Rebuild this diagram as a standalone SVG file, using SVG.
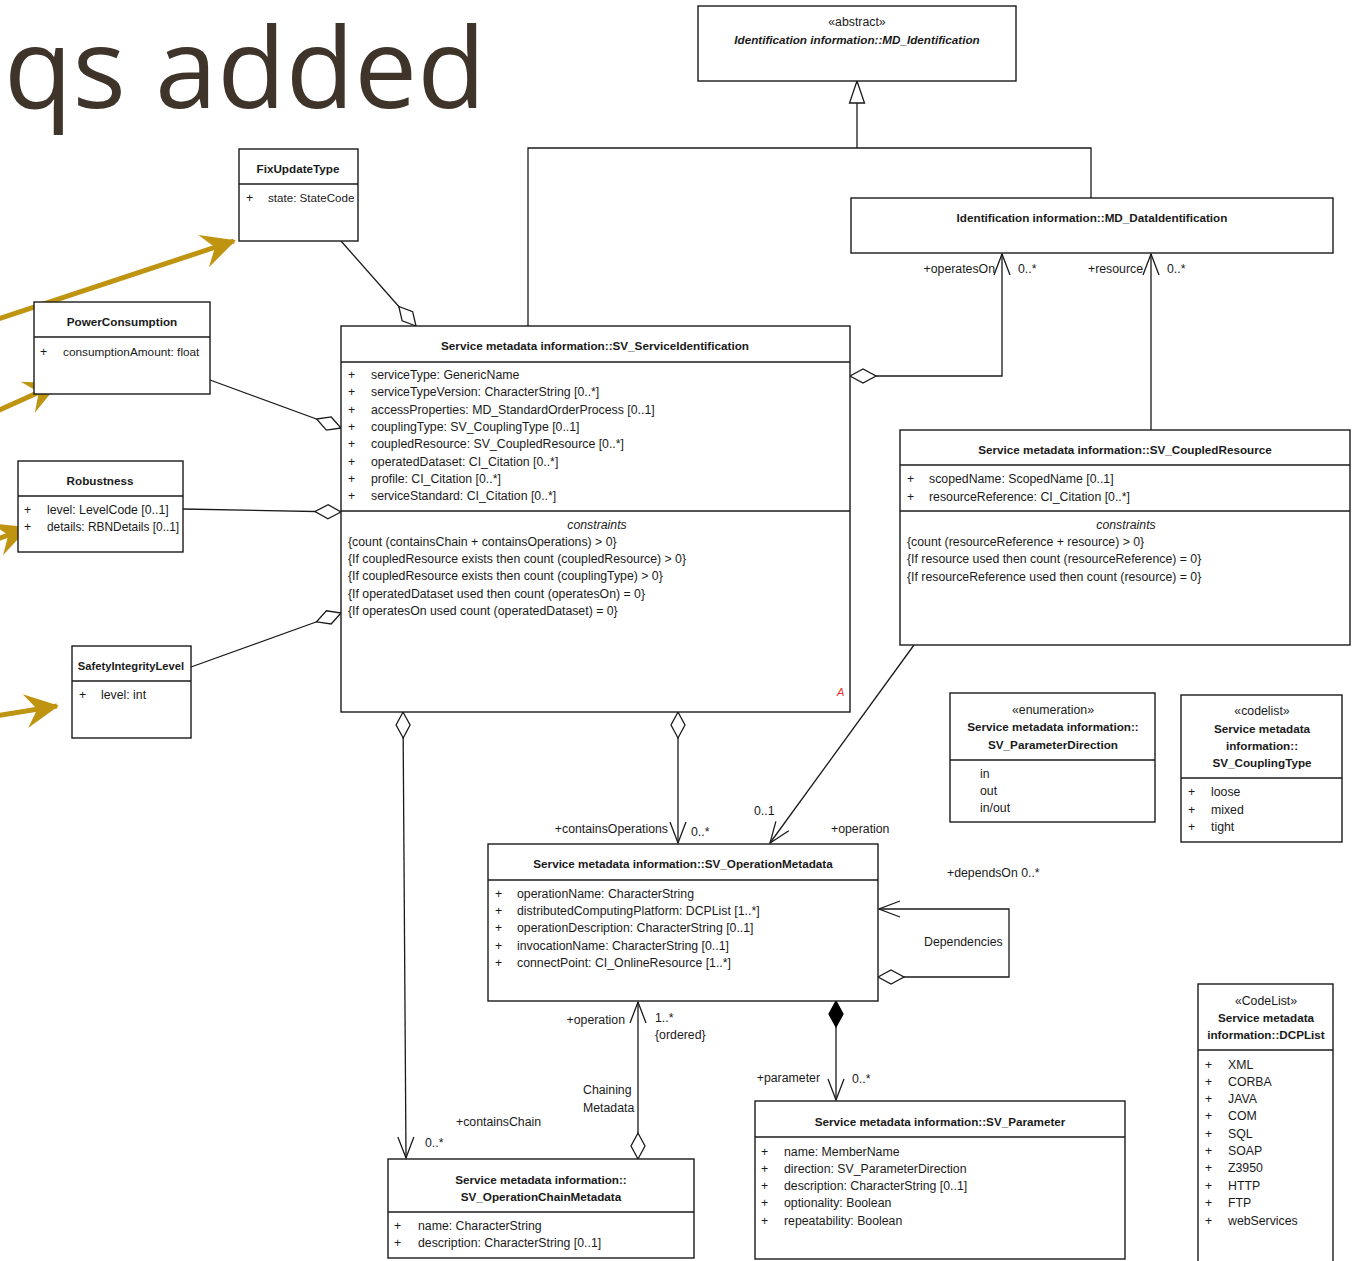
<svg xmlns="http://www.w3.org/2000/svg" width="1363" height="1261" viewBox="0 0 1363 1261">
  <style>
    text { font-family: "Liberation Sans", Arial, sans-serif; font-size: 12.3px; fill: #1a1a1a; }
    .b { font-weight: bold; font-size: 11.7px; }
    .bi { font-weight: bold; font-style: italic; font-size: 11.7px; }
    .it { font-style: italic; }
    .c { text-anchor: middle; }
    .e { text-anchor: end; }
    .box { fill: #ffffff; stroke: #1a1a1a; stroke-width: 1.4; }
    .sep { stroke: #1a1a1a; stroke-width: 1.4; fill: none; }
    .conn { fill: none; stroke: #1a1a1a; stroke-width: 1.3; }
    .gold { fill: none; stroke: #bf9410; stroke-width: 5; }
    .title { font-family: "Open Sans", "Liberation Sans", sans-serif; font-size: 112px; fill: #3f3429; }
  </style>
  <defs>
    <marker id="open" markerUnits="userSpaceOnUse" orient="auto" refX="0" refY="0" markerWidth="40" markerHeight="40" overflow="visible">
      <path d="M-21,-8 L0,0 L-21,8" fill="none" stroke="#1a1a1a" stroke-width="1.3"/>
    </marker>
    <marker id="gen" markerUnits="userSpaceOnUse" orient="auto" refX="0" refY="0" markerWidth="40" markerHeight="40" overflow="visible">
      <path d="M0,0 L-22,-7.5 L-22,7.5 Z" fill="#ffffff" stroke="#1a1a1a" stroke-width="1.3"/>
    </marker>
    <marker id="agg" markerUnits="userSpaceOnUse" orient="auto" refX="0" refY="0" markerWidth="40" markerHeight="40" overflow="visible">
      <path d="M0,0 L13,-7 L26,0 L13,7 Z" fill="#ffffff" stroke="#1a1a1a" stroke-width="1.3"/>
    </marker>
    <marker id="comp" markerUnits="userSpaceOnUse" orient="auto" refX="0" refY="0" markerWidth="40" markerHeight="40" overflow="visible">
      <path d="M0,0 L13,-7 L26,0 L13,7 Z" fill="#000000" stroke="#000000" stroke-width="1.3"/>
    </marker>
    <marker id="goldhead" markerUnits="userSpaceOnUse" orient="auto" refX="0" refY="0" markerWidth="60" markerHeight="60" overflow="visible">
      <path d="M2,0 L-32,-17 L-20,0 L-32,17 Z" fill="#bf9410"/>
    </marker>
  </defs>

  <!-- slide title, partly off the left edge -->
  <text class="title" x="4" y="108">qs added</text>

  <!-- highlight arrows pointing at the added classes -->
  <g id="highlights">
    <path class="gold" d="M-5,320 L234,241" marker-end="url(#goldhead)"/>
    <path class="gold" d="M-5,412 L57,384" marker-end="url(#goldhead)"/>
    <path class="gold" d="M-5,540 L27,528" marker-end="url(#goldhead)"/>
    <path class="gold" d="M-5,716 L57,706" marker-end="url(#goldhead)"/>
  </g>

  <g id="connectors">
    <!-- generalization to MD_Identification -->
    <path class="conn" d="M528,326 V148 H1091 V198"/>
    <path class="conn" d="M857,148 V81" marker-end="url(#gen)"/>
    <!-- aggregations onto SV_ServiceIdentification -->
    <path class="conn" d="M416,326 L341,241" marker-start="url(#agg)"/>
    <path class="conn" d="M341,428 L210,380" marker-start="url(#agg)"/>
    <path class="conn" d="M341,512 L183,509" marker-start="url(#agg)"/>
    <path class="conn" d="M341,613 L191,667" marker-start="url(#agg)"/>
    <!-- operatesOn / resource -->
    <path class="conn" d="M850,376 H1002 V254" marker-start="url(#agg)" marker-end="url(#open)"/>
    <path class="conn" d="M1151,430 V254" marker-end="url(#open)"/>
    <!-- containsOperations / containsChain -->
    <path class="conn" d="M678,712 V843" marker-start="url(#agg)" marker-end="url(#open)"/>
    <path class="conn" d="M403,712 L406,1158" marker-start="url(#agg)" marker-end="url(#open)"/>
    <!-- coupled resource operation -->
    <path class="conn" d="M914,645 L770,843" marker-end="url(#open)"/>
    <!-- Dependencies self association -->
    <path class="conn" d="M878,977 H1009 V909 H879" marker-start="url(#agg)" marker-end="url(#open)"/>
    <!-- Chaining Metadata -->
    <path class="conn" d="M638,1159 V1002" marker-start="url(#agg)" marker-end="url(#open)"/>
    <!-- parameter composition -->
    <path class="conn" d="M836,1001 V1100" marker-start="url(#comp)" marker-end="url(#open)"/>

    <text class="e" x="995" y="273">+operatesOn</text>
    <text x="1018" y="273">0..*</text>
    <text class="e" x="1143" y="273">+resource</text>
    <text x="1167" y="273">0..*</text>
    <text class="e" x="668" y="833">+containsOperations</text>
    <text x="691" y="836">0..*</text>
    <text x="754" y="815">0..1</text>
    <text x="831" y="833">+operation</text>
    <text x="947" y="877">+dependsOn 0..*</text>
    <text x="924" y="946">Dependencies</text>
    <text class="e" x="625" y="1024">+operation</text>
    <text x="655" y="1022">1..*</text>
    <text x="655" y="1039">{ordered}</text>
    <text x="583" y="1094">Chaining</text>
    <text x="583" y="1112">Metadata</text>
    <text x="456" y="1126">+containsChain</text>
    <text x="425" y="1147">0..*</text>
    <text class="e" x="820" y="1082">+parameter</text>
    <text x="852" y="1083">0..*</text>
  </g>

  <g id="MD_Identification">
    <rect class="box" x="698" y="6" width="318" height="75"/>
    <text class="c" x="857" y="26">«abstract»</text>
    <text class="bi c" x="857" y="44">Identification information::MD_Identification</text>
  </g>

  <g id="MD_DataIdentification">
    <rect class="box" x="851" y="198" width="482" height="55"/>
    <text class="b c" x="1092" y="222">Identification information::MD_DataIdentification</text>
  </g>

  <g id="FixUpdateType">
    <rect class="box" x="239" y="149" width="119" height="92"/>
    <line class="sep" x1="239" y1="184" x2="358" y2="184"/>
    <text class="b c" x="298" y="173">FixUpdateType</text>
    <text x="246" y="202">+</text>
    <text x="268" y="202" style="font-size:11.6px">state: StateCode</text>
  </g>

  <g id="PowerConsumption">
    <rect class="box" x="34" y="302" width="176" height="92"/>
    <line class="sep" x1="34" y1="337" x2="210" y2="337"/>
    <text class="b c" x="122" y="326">PowerConsumption</text>
    <text x="40" y="356">+</text>
    <text x="63" y="356" style="font-size:11.8px">consumptionAmount: float</text>
  </g>

  <g id="Robustness">
    <rect class="box" x="18" y="461" width="165" height="91"/>
    <line class="sep" x1="18" y1="496" x2="183" y2="496"/>
    <text class="b c" x="100" y="485">Robustness</text>
    <text x="24" y="514">+</text>
    <text x="47" y="514">level: LevelCode [0..1]</text>
    <text x="24" y="531">+</text>
    <text x="47" y="531" style="font-size:11.9px">details: RBNDetails [0..1]</text>
  </g>

  <g id="SafetyIntegrityLevel">
    <rect class="box" x="72" y="646" width="119" height="92"/>
    <line class="sep" x1="72" y1="681" x2="191" y2="681"/>
    <text class="b c" x="131" y="670" style="font-size:11.2px">SafetyIntegrityLevel</text>
    <text x="79" y="699">+</text>
    <text x="101" y="699">level: int</text>
  </g>

  <g id="SV_ServiceIdentification">
    <rect class="box" x="341" y="326" width="509" height="386"/>
    <line class="sep" x1="341" y1="362" x2="850" y2="362"/>
    <line class="sep" x1="341" y1="511" x2="850" y2="511"/>
    <text class="b c" x="595" y="350">Service metadata information::SV_ServiceIdentification</text>
    <text x="348" y="379">+</text><text x="371" y="379">serviceType: GenericName</text>
    <text x="348" y="396">+</text><text x="371" y="396">serviceTypeVersion: CharacterString [0..*]</text>
    <text x="348" y="414">+</text><text x="371" y="414">accessProperties: MD_StandardOrderProcess [0..1]</text>
    <text x="348" y="431">+</text><text x="371" y="431">couplingType: SV_CouplingType [0..1]</text>
    <text x="348" y="448">+</text><text x="371" y="448">coupledResource: SV_CoupledResource [0..*]</text>
    <text x="348" y="466">+</text><text x="371" y="466">operatedDataset: CI_Citation [0..*]</text>
    <text x="348" y="483">+</text><text x="371" y="483">profile: CI_Citation [0..*]</text>
    <text x="348" y="500">+</text><text x="371" y="500">serviceStandard: CI_Citation [0..*]</text>
    <text class="it c" x="597" y="529">constraints</text>
    <text x="348" y="546">{count (containsChain + containsOperations) &gt; 0}</text>
    <text x="348" y="563">{If coupledResource exists then count (coupledResource) &gt; 0}</text>
    <text x="348" y="580">{If coupledResource exists then count (couplingType) &gt; 0}</text>
    <text x="348" y="598">{If operatedDataset used then count (operatesOn) = 0}</text>
    <text x="348" y="615">{If operatesOn used count (operatedDataset) = 0}</text>
    <text class="it" x="837" y="696" style="fill:#e8322f;font-size:11px">A</text>
  </g>

  <g id="SV_CoupledResource">
    <rect class="box" x="900" y="430" width="450" height="215"/>
    <line class="sep" x1="900" y1="465" x2="1350" y2="465"/>
    <line class="sep" x1="900" y1="511" x2="1350" y2="511"/>
    <text class="b c" x="1125" y="454">Service metadata information::SV_CoupledResource</text>
    <text x="907" y="483">+</text><text x="929" y="483">scopedName: ScopedName [0..1]</text>
    <text x="907" y="501">+</text><text x="929" y="501">resourceReference: CI_Citation [0..*]</text>
    <text class="it c" x="1126" y="529">constraints</text>
    <text x="907" y="546">{count (resourceReference + resource) &gt; 0}</text>
    <text x="907" y="563">{If resource used then count (resourceReference) = 0}</text>
    <text x="907" y="581">{If resourceReference used then count (resource) = 0}</text>
  </g>

  <g id="SV_ParameterDirection">
    <rect class="box" x="950" y="693" width="205" height="129"/>
    <line class="sep" x1="950" y1="760" x2="1155" y2="760"/>
    <text class="c" x="1053" y="714">«enumeration»</text>
    <text class="b c" x="1053" y="731">Service metadata information::</text>
    <text class="b c" x="1053" y="749">SV_ParameterDirection</text>
    <text x="980" y="778">in</text>
    <text x="980" y="795">out</text>
    <text x="980" y="812">in/out</text>
  </g>

  <g id="SV_CouplingType">
    <rect class="box" x="1181" y="695" width="161" height="147"/>
    <line class="sep" x1="1181" y1="778" x2="1342" y2="778"/>
    <text class="c" x="1262" y="715">«codelist»</text>
    <text class="b c" x="1262" y="733">Service metadata</text>
    <text class="b c" x="1262" y="750">information::</text>
    <text class="b c" x="1262" y="767">SV_CouplingType</text>
    <text x="1188" y="796">+</text><text x="1211" y="796">loose</text>
    <text x="1188" y="814">+</text><text x="1211" y="814">mixed</text>
    <text x="1188" y="831">+</text><text x="1211" y="831">tight</text>
  </g>

  <g id="SV_OperationMetadata">
    <rect class="box" x="488" y="844" width="390" height="157"/>
    <line class="sep" x1="488" y1="880" x2="878" y2="880"/>
    <text class="b c" x="683" y="868">Service metadata information::SV_OperationMetadata</text>
    <text x="495" y="898">+</text><text x="517" y="898">operationName: CharacterString</text>
    <text x="495" y="915">+</text><text x="517" y="915">distributedComputingPlatform: DCPList [1..*]</text>
    <text x="495" y="932">+</text><text x="517" y="932">operationDescription: CharacterString [0..1]</text>
    <text x="495" y="950">+</text><text x="517" y="950">invocationName: CharacterString [0..1]</text>
    <text x="495" y="967">+</text><text x="517" y="967">connectPoint: CI_OnlineResource [1..*]</text>
  </g>

  <g id="SV_OperationChainMetadata">
    <rect class="box" x="388" y="1159" width="306" height="99"/>
    <line class="sep" x1="388" y1="1212" x2="694" y2="1212"/>
    <text class="b c" x="541" y="1184">Service metadata information::</text>
    <text class="b c" x="541" y="1201">SV_OperationChainMetadata</text>
    <text x="394" y="1230">+</text><text x="418" y="1230">name: CharacterString</text>
    <text x="394" y="1247">+</text><text x="418" y="1247">description: CharacterString [0..1]</text>
  </g>

  <g id="SV_Parameter">
    <rect class="box" x="755" y="1101" width="370" height="158"/>
    <line class="sep" x1="755" y1="1137" x2="1125" y2="1137"/>
    <text class="b c" x="940" y="1126">Service metadata information::SV_Parameter</text>
    <text x="761" y="1156">+</text><text x="784" y="1156">name: MemberName</text>
    <text x="761" y="1173">+</text><text x="784" y="1173">direction: SV_ParameterDirection</text>
    <text x="761" y="1190">+</text><text x="784" y="1190">description: CharacterString [0..1]</text>
    <text x="761" y="1207">+</text><text x="784" y="1207">optionality: Boolean</text>
    <text x="761" y="1225">+</text><text x="784" y="1225">repeatability: Boolean</text>
  </g>

  <g id="DCPList">
    <rect class="box" x="1198" y="984" width="135" height="290"/>
    <line class="sep" x1="1198" y1="1050" x2="1333" y2="1050"/>
    <text class="c" x="1266" y="1005">«CodeList»</text>
    <text class="b c" x="1266" y="1022">Service metadata</text>
    <text class="b c" x="1266" y="1039">information::DCPList</text>
    <text x="1205" y="1069">+</text><text x="1228" y="1069">XML</text>
    <text x="1205" y="1086">+</text><text x="1228" y="1086">CORBA</text>
    <text x="1205" y="1103">+</text><text x="1228" y="1103">JAVA</text>
    <text x="1205" y="1120">+</text><text x="1228" y="1120">COM</text>
    <text x="1205" y="1138">+</text><text x="1228" y="1138">SQL</text>
    <text x="1205" y="1155">+</text><text x="1228" y="1155">SOAP</text>
    <text x="1205" y="1172">+</text><text x="1228" y="1172">Z3950</text>
    <text x="1205" y="1190">+</text><text x="1228" y="1190">HTTP</text>
    <text x="1205" y="1207">+</text><text x="1228" y="1207">FTP</text>
    <text x="1205" y="1225">+</text><text x="1228" y="1225">webServices</text>
  </g>
</svg>
